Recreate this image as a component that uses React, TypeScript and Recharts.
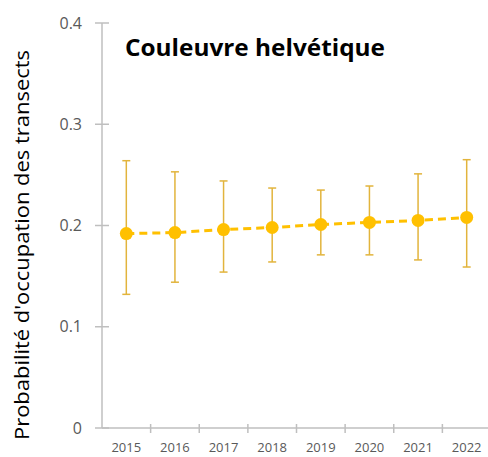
import { ComposedChart, ErrorBar, Line, XAxis, YAxis } from "recharts";

const years = ["2015", "2016", "2017", "2018", "2019", "2020", "2021", "2022"];
const occupancy = [0.192, 0.193, 0.196, 0.198, 0.201, 0.203, 0.205, 0.208];
const lower = [0.132, 0.144, 0.154, 0.164, 0.171, 0.171, 0.166, 0.159];
const upper = [0.264, 0.253, 0.244, 0.237, 0.235, 0.239, 0.251, 0.265];
const yTicks = [0, 0.1, 0.2, 0.3, 0.4];

const ORANGE = "#FFC000";
const ERR = "#E2B43C";
const AXIS = "#BFBFBF";
const TICK_TXT = "#595959";

const CHART_W = 491;
const CHART_H = 457;
const LEFT = 102;
const HALF_BAND = (CHART_W - LEFT) / years.length / 2;

const data = years.map((year, i) => ({
  year,
  value: occupancy[i],
  err: [occupancy[i] - lower[i], upper[i] - occupancy[i]],
}));

function YTick({ x, y, payload }: any) {
  return (
    <g>
      <line x1={x - 7} x2={x + 7} y1={y} y2={y} stroke={AXIS} strokeWidth={1.5} />
      <text x={x - 20} y={y} dy="0.35em" textAnchor="end" fill={TICK_TXT} fontSize={16} fontFamily="Open Sans">
        {payload.value}
      </text>
    </g>
  );
}

function XTick({ x, y, payload }: any) {
  return (
    <g>
      <line x1={x + HALF_BAND} x2={x + HALF_BAND} y1={y - 4} y2={y + 5} stroke={AXIS} strokeWidth={1.5} />
      <text x={x} y={y + 19} dy="0.35em" textAnchor="middle" fill={TICK_TXT} fontSize={13} fontFamily="Open Sans">
        {payload.value}
      </text>
    </g>
  );
}

export default function App() {
  return (
    <div style={{ position: "absolute", left: 0, top: 0, width: 488, height: 457, overflow: "hidden", background: "#fff" }}>
      <ComposedChart width={CHART_W} height={CHART_H} data={data} margin={{ top: 23, right: 0, left: 0, bottom: 0 }}>
        <XAxis
          dataKey="year"
          scale="band"
          height={29}
          axisLine={{ stroke: AXIS, strokeWidth: 1.5 }}
          tickLine={false}
          tickSize={0}
          tickMargin={0}
          tick={<XTick />}
          interval={0}
        />
        <YAxis
          width={LEFT}
          domain={[0, 0.4]}
          ticks={yTicks}
          axisLine={{ stroke: AXIS, strokeWidth: 1.5 }}
          tickLine={false}
          tickSize={0}
          tickMargin={0}
          tick={<YTick />}
          interval={0}
        />
        <Line
          dataKey="value"
          stroke={ORANGE}
          strokeWidth={3}
          strokeDasharray="8 5"
          dot={{ r: 6.5, fill: ORANGE, stroke: ORANGE, strokeWidth: 0 }}
          isAnimationActive={false}
        >
          <ErrorBar dataKey="err" width={4} stroke={ERR} strokeWidth={1.5} direction="y" isAnimationActive={false} />
        </Line>
      </ComposedChart>
      <svg width={488} height={457} style={{ position: "absolute", left: 0, top: 0, pointerEvents: "none" }}>
        <text
          x={125}
          y={48}
          dy="0.35em"
          fontSize={23}
          fontWeight="bold"
          fontFamily="Open Sans"
          fill="#000"
          textLength={260}
          lengthAdjust="spacingAndGlyphs"
        >
          Couleuvre helvétique
        </text>
        <text
          x={22}
          y={245}
          dy="0.35em"
          transform="rotate(-90 22 245)"
          textAnchor="middle"
          fontSize={20}
          fontFamily="Open Sans"
          fill="#000"
          textLength={390}
          lengthAdjust="spacingAndGlyphs"
        >
          Probabilité d'occupation des transects
        </text>
      </svg>
    </div>
  );
}
